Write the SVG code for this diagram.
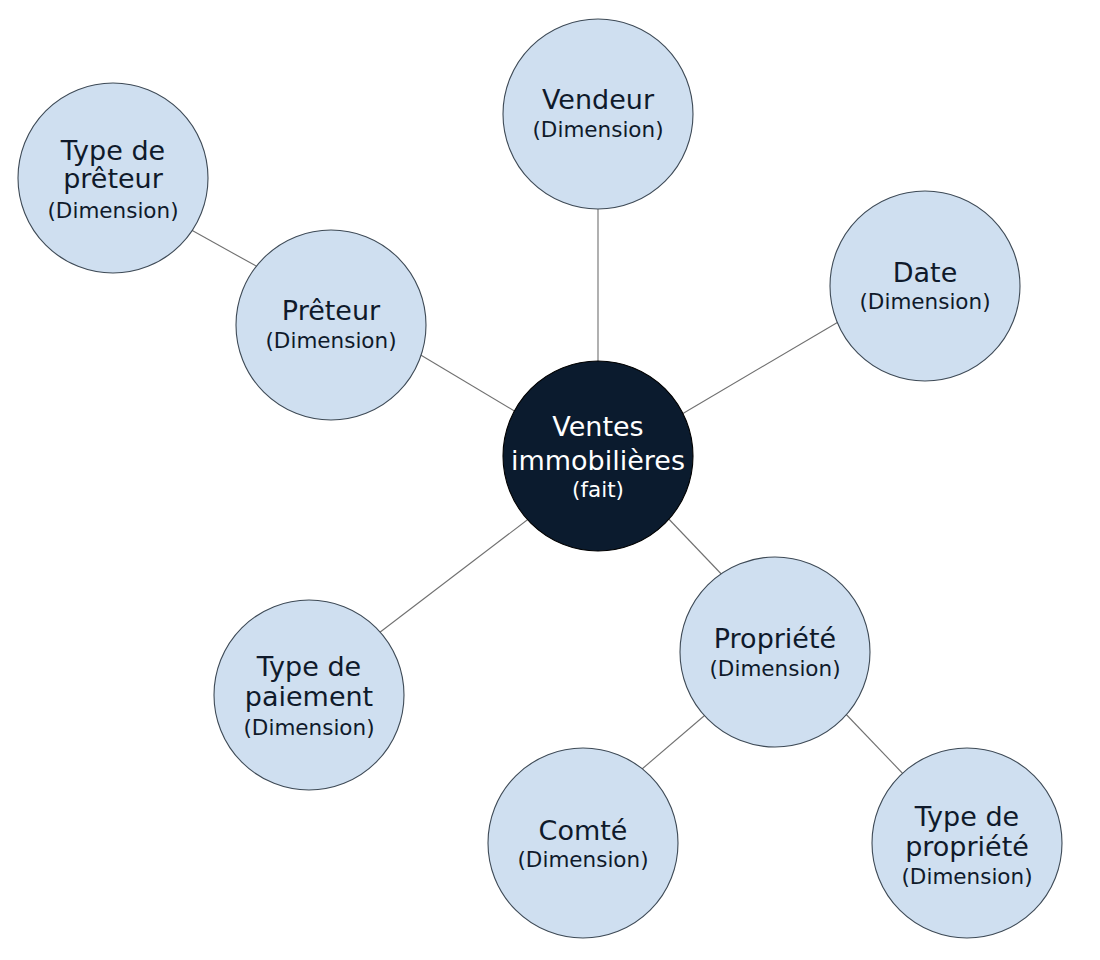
<svg xmlns="http://www.w3.org/2000/svg" width="1100" height="960" viewBox="0 0 1100 960">
  <style>
    .link { stroke: #707070; stroke-width: 1.1; fill: none; }
    .dim { fill: #cfdff0; stroke: #3e4a56; stroke-width: 1.1; }
    .fact { fill: #0b1b2e; stroke: #000000; stroke-width: 1.1; }
    text { font-family: "DejaVu Sans", "Liberation Sans", sans-serif; text-anchor: middle; }
    .t { font-size: 27px; fill: #0f1a2b; }
    .s { font-size: 21.5px; fill: #0f1a2b; }
    .tw { font-size: 27px; fill: #ffffff; }
    .sw { font-size: 21.5px; fill: #ffffff; }
  </style>
  <rect x="0" y="0" width="1100" height="960" fill="#ffffff"/>
  <g id="connectors">
    <line class="link" x1="598" y1="200" x2="598" y2="370"/>
    <line class="link" x1="186" y1="227" x2="265" y2="271"/>
    <line class="link" x1="414" y1="351" x2="521" y2="415"/>
    <line class="link" x1="845" y1="318" x2="677" y2="417"/>
    <line class="link" x1="375" y1="636" x2="535" y2="514"/>
    <line class="link" x1="664" y1="514" x2="727" y2="580"/>
    <line class="link" x1="711" y1="710" x2="635" y2="775"/>
    <line class="link" x1="841" y1="709" x2="907" y2="778"/>
  </g>
  <g id="vendeur">
    <circle class="dim" cx="598" cy="114" r="95"/>
    <text class="t" x="598" y="109">Vendeur</text>
    <text class="s" x="598" y="137">(Dimension)</text>
  </g>
  <g id="type-preteur">
    <circle class="dim" cx="113" cy="178" r="95"/>
    <text class="t" x="113" y="160">Type de</text>
    <text class="t" x="113" y="188">prêteur</text>
    <text class="s" x="113" y="218">(Dimension)</text>
  </g>
  <g id="preteur">
    <circle class="dim" cx="331" cy="325" r="95"/>
    <text class="t" x="331" y="320">Prêteur</text>
    <text class="s" x="331" y="348">(Dimension)</text>
  </g>
  <g id="date">
    <circle class="dim" cx="925" cy="286" r="95"/>
    <text class="t" x="925" y="282">Date</text>
    <text class="s" x="925" y="309">(Dimension)</text>
  </g>
  <g id="ventes">
    <circle class="fact" cx="598" cy="456" r="95"/>
    <text class="tw" x="598" y="436">Ventes</text>
    <text class="tw" x="598" y="470">immobilières</text>
    <text class="sw" x="598" y="497">(fait)</text>
  </g>
  <g id="type-paiement">
    <circle class="dim" cx="309" cy="695" r="95"/>
    <text class="t" x="309" y="676">Type de</text>
    <text class="t" x="309" y="706">paiement</text>
    <text class="s" x="309" y="735">(Dimension)</text>
  </g>
  <g id="propriete">
    <circle class="dim" cx="775" cy="652" r="95"/>
    <text class="t" x="775" y="648">Propriété</text>
    <text class="s" x="775" y="676">(Dimension)</text>
  </g>
  <g id="comte">
    <circle class="dim" cx="583" cy="843" r="95"/>
    <text class="t" x="583" y="840">Comté</text>
    <text class="s" x="583" y="867">(Dimension)</text>
  </g>
  <g id="type-propriete">
    <circle class="dim" cx="967" cy="843" r="95"/>
    <text class="t" x="967" y="826">Type de</text>
    <text class="t" x="967" y="856">propriété</text>
    <text class="s" x="967" y="884">(Dimension)</text>
  </g>
</svg>
